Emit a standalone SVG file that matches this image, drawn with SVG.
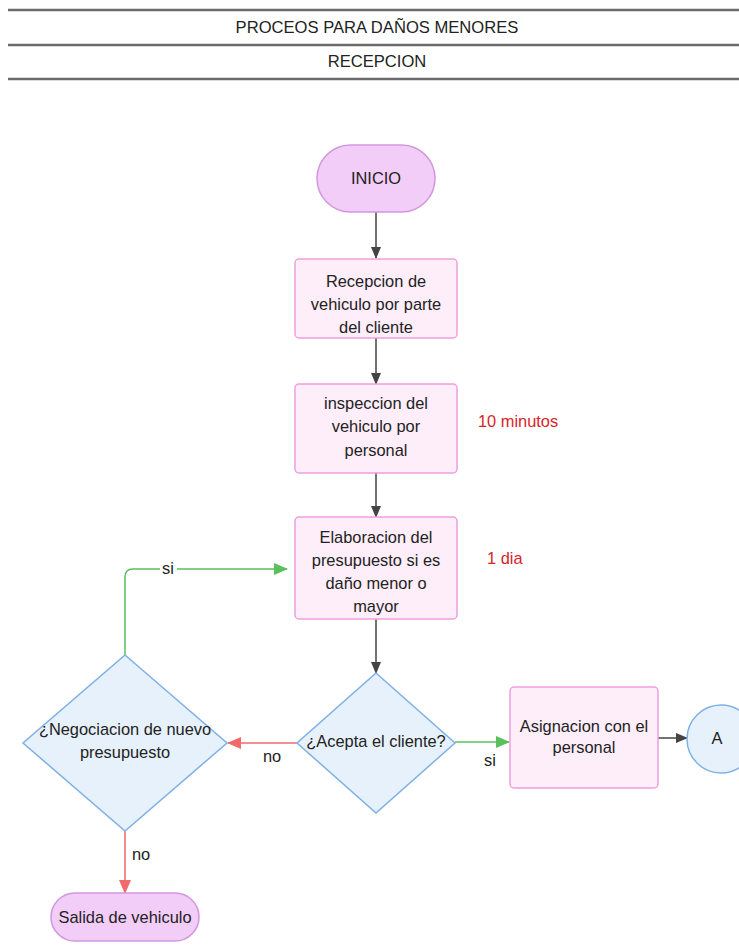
<svg xmlns="http://www.w3.org/2000/svg" width="739" height="947" viewBox="0 0 739 947">
  <defs>
    <style>
      text { font-family: "Liberation Sans", Arial, sans-serif; font-size: 16.4px; fill: #222; text-anchor: middle; }
      .hdr { font-size: 16.6px; }
      .note { fill: #d8232a; text-anchor: start; }
      .rule { stroke: #6b6b6b; stroke-width: 2.5; }
      .proc { fill: #fdeefa; stroke: #eea0dc; stroke-width: 1.5; }
      .term { fill: #f2cdf7; stroke: #d296e0; stroke-width: 1.5; }
      .dec { fill: #e6f1fc; stroke: #7fb0e6; stroke-width: 1.5; }
      .conn { fill: none; stroke-width: 1.5; }
      .dark { stroke: #444; }
      .green { stroke: #58c05d; }
      .red { stroke: #f06a6a; }
    </style>
    <marker id="arrDark" markerWidth="12" markerHeight="10" refX="11" refY="5" orient="auto" markerUnits="userSpaceOnUse">
      <path d="M0,0 L12,5 L0,10 Z" fill="#444"/>
    </marker>
    <marker id="arrGreen" markerWidth="14" markerHeight="12" refX="13" refY="6" orient="auto" markerUnits="userSpaceOnUse">
      <path d="M0,0 L14,6 L0,12 Z" fill="#58c05d"/>
    </marker>
    <marker id="arrRed" markerWidth="14" markerHeight="12" refX="13" refY="6" orient="auto" markerUnits="userSpaceOnUse">
      <path d="M0,0 L14,6 L0,12 Z" fill="#f06a6a"/>
    </marker>
  </defs>

  <rect width="739" height="947" fill="#ffffff"/>

  <!-- header table -->
  <g id="header">
    <line class="rule" x1="8" y1="10" x2="739" y2="10"/>
    <line class="rule" x1="8" y1="45" x2="739" y2="45"/>
    <line class="rule" x1="8" y1="79" x2="739" y2="79"/>
    <text class="hdr" x="377" y="33">PROCEOS PARA DAÑOS MENORES</text>
    <text class="hdr" x="377" y="67">RECEPCION</text>
  </g>

  <!-- connectors -->
  <g id="connectors">
    <line class="conn dark" x1="376" y1="212" x2="376" y2="258" marker-end="url(#arrDark)"/>
    <line class="conn dark" x1="376" y1="338" x2="376" y2="384" marker-end="url(#arrDark)"/>
    <line class="conn dark" x1="376" y1="473" x2="376" y2="517" marker-end="url(#arrDark)"/>
    <line class="conn dark" x1="376" y1="619" x2="376" y2="673" marker-end="url(#arrDark)"/>
    <path class="conn green" d="M125,655 L125,577 Q125,569 133,569 L287,569" marker-end="url(#arrGreen)"/>
    <line class="conn red" x1="297" y1="743" x2="228" y2="743" marker-end="url(#arrRed)"/>
    <line class="conn green" x1="455" y1="742" x2="509" y2="742" marker-end="url(#arrGreen)"/>
    <line class="conn dark" x1="658" y1="738" x2="687" y2="738" marker-end="url(#arrDark)"/>
    <line class="conn red" x1="125" y1="831" x2="125" y2="893" marker-end="url(#arrRed)"/>
    <rect x="160" y="560" width="17" height="18" fill="#ffffff"/>
    <text x="168" y="574">si</text>
    <text x="272" y="762">no</text>
    <text x="490" y="766">si</text>
    <text x="141" y="860">no</text>
  </g>

  <g id="inicio">
    <rect class="term" x="317" y="145" width="118" height="67" rx="33.5"/>
    <text x="376" y="184">INICIO</text>
  </g>

  <g id="recepcion">
    <rect class="proc" x="295" y="259" width="162" height="79" rx="4"/>
    <text x="376" y="287">Recepcion de</text>
    <text x="376" y="310">vehiculo por parte</text>
    <text x="376" y="333">del cliente</text>
  </g>

  <g id="inspeccion">
    <rect class="proc" x="295" y="384" width="162" height="89" rx="4"/>
    <text x="376" y="409">inspeccion del</text>
    <text x="376" y="432">vehiculo por</text>
    <text x="376" y="456">personal</text>
  </g>
  <text class="note" x="478" y="427">10 minutos</text>

  <g id="elaboracion">
    <rect class="proc" x="295" y="517" width="162" height="102" rx="4"/>
    <text x="376" y="543">Elaboracion del</text>
    <text x="376" y="566">presupuesto si es</text>
    <text x="376" y="589">daño menor o</text>
    <text x="376" y="612">mayor</text>
  </g>
  <text class="note" x="487" y="564">1 dia</text>

  <g id="acepta">
    <polygon class="dec" points="376,673 455,743 376,813 297,743"/>
    <text x="376" y="747">¿Acepta el cliente?</text>
  </g>

  <g id="negociacion">
    <polygon class="dec" points="125,655 227,743 125,831 23,743"/>
    <text x="125" y="735">¿Negociacion de nuevo</text>
    <text x="125" y="758">presupuesto</text>
  </g>

  <g id="asignacion">
    <rect class="proc" x="510" y="687" width="148" height="101" rx="4"/>
    <text x="584" y="732">Asignacion con el</text>
    <text x="584" y="753">personal</text>
  </g>

  <g id="conector-a">
    <circle class="dec" cx="721" cy="739" r="34"/>
    <text x="717" y="744">A</text>
  </g>

  <g id="salida">
    <rect class="term" x="51" y="893" width="148" height="48" rx="24"/>
    <text x="125" y="923">Salida de vehiculo</text>
  </g>
</svg>
